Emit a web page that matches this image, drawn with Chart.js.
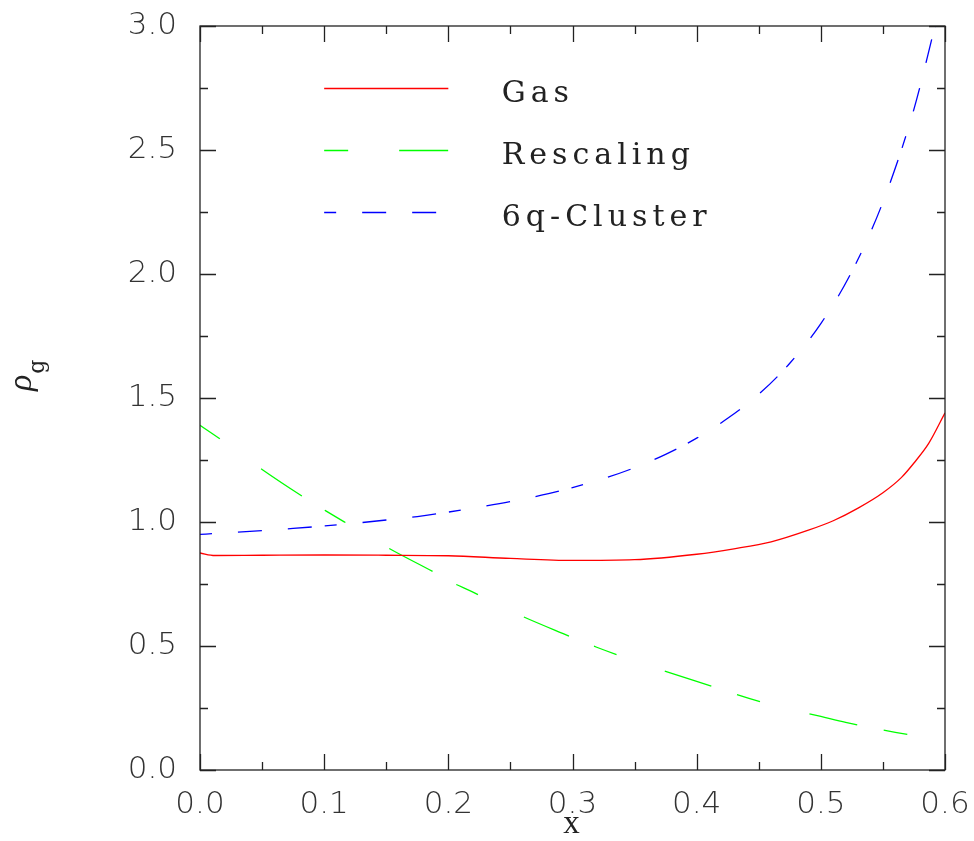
<!DOCTYPE html>
<html>
<head>
<meta charset="utf-8">
<script src="https://cdn.jsdelivr.net/npm/chart.js@4/dist/chart.umd.min.js"></script>
<style>html,body{margin:0;background:#fff}canvas{display:block}</style>
</head>
<body>
<canvas id="c" width="974" height="841"></canvas>
<script>
/* rho_g vs x : gas / rescaling / 6q-cluster */

// Gas (rosso, continua)
var gasX = [0, 0.012, 0.05, 0.1, 0.15, 0.2, 0.25, 0.3, 0.35, 0.4, 0.43, 0.46, 0.49, 0.51, 0.53, 0.55, 0.565, 0.575, 0.587, 0.6];
var gasY = [0.875, 0.865, 0.866, 0.867, 0.866, 0.864, 0.853, 0.845, 0.848, 0.87, 0.892, 0.92, 0.967, 1.005, 1.056, 1.118, 1.18, 1.238, 1.318, 1.44];

// Rescaling (verde, tratteggio lungo)
var resX = [0, 0.0167, 0.05, 0.083, 0.101, 0.118, 0.1535, 0.189, 0.2008, 0.219, 0.256, 0.292, 0.3195, 0.35, 0.4, 0.4585, 0.5, 0.52, 0.56, 0.6];
var resY = [1.39, 1.333, 1.212, 1.102, 1.046, 0.995, 0.89, 0.796, 0.762, 0.719, 0.628, 0.551, 0.495, 0.44, 0.357, 0.265, 0.216, 0.192, 0.152, 0.118];

// 6q-Cluster (blu, tratteggio corto)
var cluX = [0, 0.02, 0.05, 0.075, 0.1, 0.125, 0.15, 0.175, 0.2, 0.225, 0.25, 0.275, 0.3, 0.325, 0.35, 0.375, 0.4, 0.425, 0.45, 0.475, 0.5, 0.525, 0.55, 0.575, 0.592];
var cluY = [0.95, 0.956, 0.965, 0.974, 0.984, 0.995, 1.008, 1.022, 1.04, 1.06, 1.082, 1.108, 1.139, 1.175, 1.219, 1.273, 1.338, 1.418, 1.515, 1.64, 1.8, 2.01, 2.29, 2.665, 3.0];

var seriesLabels = ['Gas', 'Rescaling', '6q-Cluster'];
var xTicksStep = 0.1, yTicksStep = 0.5;

function pts(xs, ys) { return xs.map(function (x, i) { return { x: x, y: ys[i] }; }); }

var TICK_FONT = { family: 'DejaVu Sans', size: 31, weight: '200' };

/* cornice + tacche interne (stile PGPLOT), legenda e titoli assi */
var frame = {
  id: 'frame',
  afterDraw: function (chart) {
    var ctx = chart.ctx, a = chart.chartArea, xs = chart.scales.x, ys = chart.scales.y;
    ctx.save();
    ctx.strokeStyle = '#222'; ctx.lineWidth = 1.3;
    ctx.strokeRect(a.left, a.top, a.right - a.left, a.bottom - a.top);
    var v, p, len;
    for (v = 0; v <= 0.6001; v += 0.05) {
      p = Math.round(xs.getPixelForValue(v)) + 0.5;
      len = (Math.round(v * 100) % 10 === 0) ? 16 : 8;
      ctx.beginPath();
      ctx.moveTo(p, a.bottom); ctx.lineTo(p, a.bottom - len);
      ctx.moveTo(p, a.top); ctx.lineTo(p, a.top + len);
      ctx.stroke();
    }
    for (v = 0; v <= 3.0001; v += 0.25) {
      p = Math.round(ys.getPixelForValue(v)) + 0.5;
      len = (Math.round(v * 100) % 50 === 0) ? 16 : 8;
      ctx.beginPath();
      ctx.moveTo(a.left, p); ctx.lineTo(a.left + len, p);
      ctx.moveTo(a.right, p); ctx.lineTo(a.right - len, p);
      ctx.stroke();
    }

    // legenda in coordinate dati
    var lx0 = xs.getPixelForValue(0.1), lx1 = xs.getPixelForValue(0.2), tx = xs.getPixelForValue(0.243);
    var levels = [2.75, 2.5, 2.25];
    chart.data.datasets.forEach(function (ds, i) {
      var y = Math.round(ys.getPixelForValue(levels[i])) + 0.5;
      ctx.strokeStyle = ds.borderColor; ctx.lineWidth = ds.borderWidth;
      ctx.setLineDash(ds.borderDash || []);
      ctx.beginPath(); ctx.moveTo(lx0, y); ctx.lineTo(lx1, y); ctx.stroke();
      ctx.setLineDash([]);
      ctx.fillStyle = '#222';
      ctx.font = '30px "DejaVu Serif"';
      ctx.letterSpacing = '5px';
      ctx.textBaseline = 'alphabetic'; ctx.textAlign = 'left';
      ctx.fillText(ds.label, tx, y + 13);
    });
    ctx.letterSpacing = '0px';

    // titolo asse x
    ctx.fillStyle = '#222';
    ctx.font = '33px "Liberation Serif"';
    ctx.textAlign = 'center';
    ctx.fillText('x', (a.left + a.right) / 2 - 1, 833);

    // titolo asse y: rho con pedice g, ruotato
    ctx.translate(31, 391);
    ctx.rotate(-Math.PI / 2);
    ctx.textAlign = 'left';
    ctx.font = 'italic 34px "Liberation Serif"';
    ctx.fillText('\u03c1', 0, 0);
    var w = ctx.measureText('\u03c1').width;
    ctx.font = '22px "DejaVu Serif"';
    ctx.fillText('g', w + 1, 13);
    ctx.restore();
  }
};

new Chart(document.getElementById('c'), {
  type: 'line',
  data: {
    datasets: [
      { label: seriesLabels[0], data: pts(gasX, gasY), borderColor: '#ff0000', borderWidth: 1.3, pointRadius: 0, cubicInterpolationMode: 'monotone', fill: false },
      { label: seriesLabels[1], data: pts(resX, resY), borderColor: '#00ff00', borderWidth: 1.3, borderDash: [24, 51, 49, 27], pointRadius: 0, cubicInterpolationMode: 'monotone', fill: false },
      { label: seriesLabels[2], data: pts(cluX, cluY), borderColor: '#0000ff', borderWidth: 1.3, borderDash: [12, 26, 24, 26, 24, 13], pointRadius: 0, cubicInterpolationMode: 'monotone', fill: false }
    ]
  },
  options: {
    responsive: false, animation: false, devicePixelRatio: 1,
    layout: { padding: { left: 0, top: 26, right: 29, bottom: 0 } },
    plugins: { legend: { display: false }, tooltip: { enabled: false } },
    scales: {
      x: {
        type: 'linear', min: 0, max: 0.6,
        grid: { display: false, drawTicks: false }, border: { display: false },
        ticks: { stepSize: xTicksStep, padding: 16, color: '#333', font: TICK_FONT, maxRotation: 0,
          callback: function (v) { return v.toFixed(1); } },
        afterFit: function (s) { s.height = 71; s.paddingLeft = 0; s.paddingRight = 0; }
      },
      y: {
        type: 'linear', min: 0, max: 3,
        grid: { display: false, drawTicks: false }, border: { display: false },
        ticks: { stepSize: yTicksStep, padding: 23, color: '#333', font: TICK_FONT,
          callback: function (v) { return v.toFixed(1); } },
        afterFit: function (s) { s.width = 200; s.paddingTop = 0; s.paddingBottom = 0; }
      }
    }
  },
  plugins: [frame]
});
</script>
</body>
</html>
